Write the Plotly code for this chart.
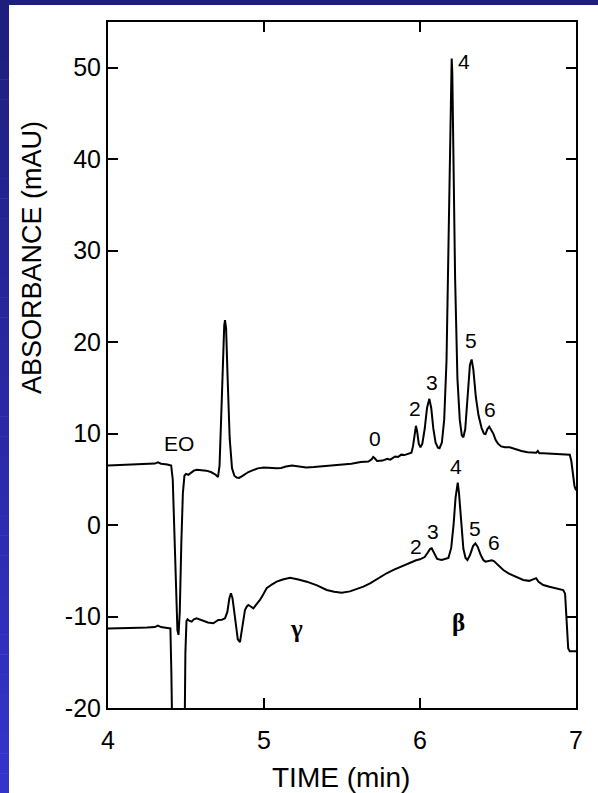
import plotly.graph_objects as go

# ---------------- data ----------------
upper_t = [4.000, 4.050, 4.100, 4.150, 4.200, 4.250, 4.300, 4.320, 4.340, 4.380, 4.405,
           4.415, 4.425, 4.435, 4.445, 4.452, 4.460, 4.470, 4.480, 4.490, 4.500, 4.515,
           4.530, 4.550, 4.570, 4.600, 4.630, 4.660, 4.690, 4.705, 4.715, 4.725, 4.735,
           4.745, 4.750, 4.757, 4.767, 4.780, 4.795, 4.810, 4.825, 4.840, 4.860, 4.880,
           4.900, 4.930, 4.960, 5.000, 5.040, 5.080, 5.110, 5.140, 5.180, 5.220, 5.270,
           5.320, 5.380, 5.440, 5.500, 5.560, 5.620, 5.670, 5.690, 5.700, 5.710, 5.725,
           5.760, 5.790, 5.810, 5.840, 5.860, 5.880, 5.900, 5.930, 5.945, 5.955, 5.965,
           5.974, 5.982, 5.992, 6.003, 6.015, 6.030, 6.045, 6.060, 6.072, 6.085, 6.100,
           6.115, 6.125, 6.140, 6.155, 6.170, 6.182, 6.192, 6.200, 6.203, 6.207, 6.215,
           6.225, 6.240, 6.255, 6.268, 6.278, 6.290, 6.305, 6.320, 6.331, 6.342, 6.358,
           6.375, 6.395, 6.410, 6.420, 6.432, 6.444, 6.458, 6.470, 6.485, 6.500, 6.520,
           6.545, 6.575, 6.610, 6.650, 6.690, 6.720, 6.745, 6.755, 6.765, 6.790, 6.830,
           6.870, 6.920, 6.960, 6.970, 6.980, 6.990, 7.000]
upper_a = [6.50, 6.55, 6.60, 6.62, 6.65, 6.68, 6.72, 6.85, 6.70, 6.62, 6.50,
           5.0, 0.0, -7.0, -11.5, -12.0, -9.5, -2.0, 3.5, 5.4, 5.6, 5.5,
           5.7, 5.95, 6.05, 6.0, 5.95, 5.80, 5.50, 5.25, 6.5, 11.5, 17.5,
           21.8, 22.4, 21.5, 16.0, 9.5, 6.2, 5.4, 5.2, 5.15, 5.35, 5.6,
           5.8, 6.0, 6.2, 6.3, 6.25, 6.2, 6.25, 6.4, 6.5, 6.4, 6.3,
           6.35, 6.45, 6.55, 6.6, 6.7, 6.9, 6.95, 7.2, 7.45, 7.3, 7.0,
           7.05, 7.25, 7.15, 7.5, 7.45, 7.7, 7.65, 7.8, 7.9, 8.6, 10.0,
           10.85, 10.2, 8.9, 8.5, 8.9, 10.5, 12.8, 13.8, 12.8, 10.6, 9.0,
           8.45, 8.4, 9.0, 11.5, 18.0, 30.0, 42.0, 49.5, 51.0, 49.5, 40.0,
           27.0, 16.0, 11.5, 9.8, 9.6, 10.5, 14.0, 17.5, 18.1, 17.0, 14.0,
           12.0, 10.6, 10.0, 9.95, 10.5, 10.76, 10.4, 10.0, 9.3, 8.9, 8.6,
           8.5, 8.5, 8.3, 8.1, 7.95, 7.9, 7.9, 8.1, 7.85, 7.85, 7.8,
           7.75, 7.75, 7.7, 7.0, 5.5, 4.3, 3.8]

lower_t = [4.000, 4.050, 4.100, 4.150, 4.200, 4.250, 4.300, 4.320, 4.340, 4.380, 4.400,
           4.406, 4.410, 4.420, 4.480, 4.490, 4.496, 4.503, 4.510, 4.520, 4.536, 4.550,
           4.568, 4.590, 4.611, 4.640, 4.675, 4.690, 4.707, 4.730, 4.750, 4.765, 4.778,
           4.788, 4.798, 4.808, 4.820, 4.832, 4.846, 4.858, 4.868, 4.878, 4.890, 4.900,
           4.915, 4.932, 4.950, 4.974, 4.995, 5.017, 5.050, 5.081, 5.120, 5.167, 5.220,
           5.274, 5.340, 5.402, 5.450, 5.498, 5.551, 5.600, 5.637, 5.680, 5.720, 5.765,
           5.786, 5.830, 5.872, 5.893, 5.940, 5.975, 6.000, 6.030, 6.050, 6.065, 6.075,
           6.090, 6.110, 6.139, 6.160, 6.182, 6.200, 6.215, 6.228, 6.238, 6.242, 6.250,
           6.262, 6.278, 6.292, 6.304, 6.320, 6.340, 6.355, 6.370, 6.390, 6.406, 6.420,
           6.440, 6.460, 6.474, 6.500, 6.534, 6.570, 6.620, 6.662, 6.700, 6.730, 6.744,
           6.760, 6.790, 6.830, 6.870, 6.918, 6.930, 6.940, 6.950, 6.960, 6.980, 7.000]
lower_a = [-11.30, -11.30, -11.25, -11.25, -11.22, -11.20, -11.15, -11.00, -11.15, -11.25, -11.30,
           -16.0, -25.0, -32.0, -32.0, -25.0, -14.0, -10.5, -10.3, -10.45, -10.56, -10.3,
           -10.2, -10.35, -10.48, -10.65, -10.74, -10.6, -10.38, -10.35, -10.2, -9.5, -8.0,
           -7.46, -8.0, -9.3, -11.0, -12.5, -12.8, -11.5, -10.0, -9.28, -8.9, -8.74,
           -8.9, -9.1, -8.7, -8.19, -7.6, -6.91, -6.5, -6.19, -5.95, -5.75, -5.95,
           -6.19, -6.6, -7.1, -7.3, -7.39, -7.25, -6.95, -6.73, -6.37, -5.95, -5.55,
           -5.27, -4.9, -4.6, -4.36, -4.05, -3.85, -3.74, -3.5, -3.0, -2.6, -2.54,
           -3.0, -3.7, -3.82, -3.75, -3.6, -2.5, 0.0, 3.0, 4.5, 4.63, 3.5,
           0.5, -2.6, -3.6, -3.82, -3.3, -2.3, -2.0, -2.4, -3.3, -3.82, -4.0,
           -3.9, -3.85, -3.93, -4.4, -4.91, -5.3, -5.7, -6.0, -6.1, -5.95, -5.8,
           -6.2, -6.55, -6.75, -6.9, -7.1, -7.5, -11.0, -13.5, -13.8, -13.8, -13.8]

# peak labels (text, time, absorbance position)
label_text = ["EO", "0", "2", "3", "4", "5", "6", "2", "3", "4", "5", "6"]
label_t = [4.455, 5.709, 5.966, 6.075, 6.282, 6.325, 6.449, 5.973, 6.085, 6.231, 6.353, 6.476]
label_a = [8.97, 9.49, 12.77, 15.57, 50.63, 20.23, 12.69, -2.36, -0.72, 6.38, -0.35, -1.88]

greek_text = ["γ", "β"]
greek_t = [5.209, 6.246]
greek_a = [-11.3, -10.7]

x_ticks = [4, 5, 6, 7]
y_ticks = [-20, -10, 0, 10, 20, 30, 40, 50]
x_range = [4, 7]
y_range = [-20, 55]

# ---------------- figure ----------------
W, H = 598, 793
ML, MR, MT, MB = 108, 22, 22, 85
PW, PH = W - ML - MR, H - MT - MB

fig = go.Figure()
line_style = dict(color="black", width=2)
fig.add_trace(go.Scatter(x=upper_t, y=upper_a, mode="lines", line=line_style,
                         showlegend=False, hoverinfo="skip"))
fig.add_trace(go.Scatter(x=lower_t, y=lower_a, mode="lines", line=line_style,
                         showlegend=False, hoverinfo="skip"))

annotations = []
for txt, t, a in zip(label_text, label_t, label_a):
    annotations.append(dict(x=t, y=a, xref="x", yref="y", text=txt, showarrow=False,
                            xanchor="center", yanchor="middle",
                            font=dict(family="Liberation Sans, Arial", size=21, color="black")))
for txt, t, a in zip(greek_text, greek_t, greek_a):
    annotations.append(dict(x=t, y=a, xref="x", yref="y", text="<b>" + txt + "</b>",
                            showarrow=False, xanchor="center", yanchor="middle",
                            font=dict(family="Liberation Serif, Times New Roman", size=25,
                                      color="black")))

def px2paper_x(px):
    return (px - ML) / PW

def px2paper_y(py):
    return (H - MB - py) / PH

# y-axis title (placed as in the reference, above centre)
annotations.append(dict(x=px2paper_x(32), y=px2paper_y(258), xref="paper", yref="paper",
                        text="ABSORBANCE (mAU)", textangle=-90, showarrow=False,
                        xanchor="center", yanchor="middle",
                        font=dict(family="Liberation Sans, Arial", size=27, color="black")))
# x-axis title
annotations.append(dict(x=px2paper_x(341), y=px2paper_y(777), xref="paper", yref="paper",
                        text="TIME (min)", showarrow=False, xanchor="center", yanchor="middle",
                        font=dict(family="Liberation Sans, Arial", size=28, color="black")))

# decorative blue frame (top bar + left gradient bar)
shapes = []
shapes.append(dict(type="rect", xref="paper", yref="paper",
                   x0=px2paper_x(0), x1=px2paper_x(W), y0=px2paper_y(5), y1=px2paper_y(0),
                   fillcolor="#1e1e7c", line=dict(width=0), layer="below"))
n = 40
c0 = (0x1e, 0x1e, 0x7c)
c1 = (0x34, 0x34, 0xcc)
for i in range(n):
    f = (i + 0.5) / n
    col = "rgb(%d,%d,%d)" % tuple(int(round(c0[k] + (c1[k] - c0[k]) * f)) for k in range(3))
    ya = H * i / n
    yb = H * (i + 1) / n
    shapes.append(dict(type="rect", xref="paper", yref="paper",
                       x0=px2paper_x(0), x1=px2paper_x(9),
                       y0=px2paper_y(yb + 0.5), y1=px2paper_y(ya),
                       fillcolor=col, line=dict(width=0), layer="below"))

axis_common = dict(showgrid=False, zeroline=False, showline=True, linecolor="black",
                   linewidth=2, mirror="ticks", ticks="inside", ticklen=10, tickwidth=1.5,
                   tickcolor="black", automargin=False,
                   tickfont=dict(family="Liberation Sans, Arial", size=25, color="black"))

fig.update_layout(
    width=W, height=H, autosize=False,
    margin=dict(l=ML, r=MR, t=MT, b=MB, pad=0),
    paper_bgcolor="white", plot_bgcolor="white",
    xaxis=dict(range=x_range, tickvals=x_ticks, ticktext=[str(v) for v in x_ticks],
               ticklabelstandoff=9, **axis_common),
    yaxis=dict(range=y_range, tickvals=y_ticks, ticktext=[str(v) for v in y_ticks],
               **axis_common),
    annotations=annotations,
    shapes=shapes,
)

fig.write_html("out.html")
